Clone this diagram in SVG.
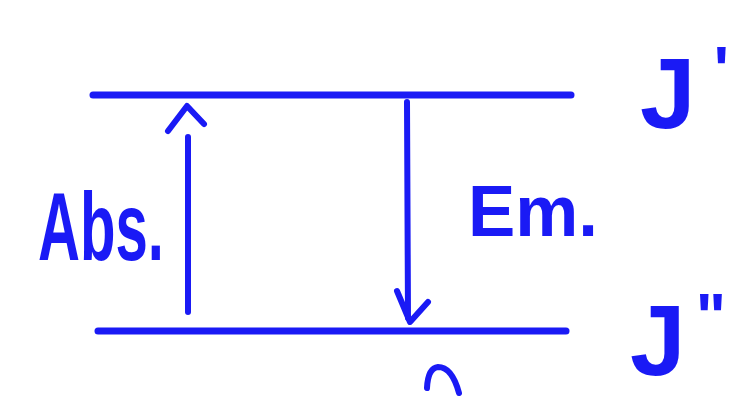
<svg xmlns="http://www.w3.org/2000/svg" width="746" height="398" viewBox="0 0 746 398">
  <style>
    .ink { stroke: #1a1af5; fill: none; stroke-linecap: round; stroke-linejoin: round; }
    .lvl { stroke-width: 7; }
    .arr { stroke-width: 6; }
    .lbl { fill: #1a1af5; font-family: "Liberation Sans", Arial, sans-serif; font-weight: bold; }
  </style>
  <rect width="746" height="398" fill="#ffffff"/>
  <g id="upper-level">
    <line class="ink lvl" x1="93" y1="95" x2="571" y2="95"/>
    <text class="lbl" x="640" y="128" font-size="100">J<tspan dx="18" dy="-36" font-size="64">'</tspan></text>
  </g>
  <g id="lower-level">
    <line class="ink lvl" x1="98" y1="331" x2="566" y2="331"/>
    <text class="lbl" x="630" y="375" font-size="100">J<tspan dx="10" dy="-36" font-size="64">"</tspan></text>
  </g>
  <g id="connectors">
    <g id="absorption">
      <line class="ink arr" x1="188" y1="312" x2="188" y2="137"/>
      <polyline class="ink arr" points="168,131 187,106 204,124"/>
    </g>
    <g id="emission">
      <line class="ink arr" x1="407" y1="102" x2="408" y2="318"/>
      <polyline class="ink arr" points="397,291 410,322 428,302"/>
    </g>
  </g>
  <g id="labels">
    <text class="lbl" x="38" y="260" font-size="96" textLength="126" lengthAdjust="spacingAndGlyphs">Abs.</text>
    <text class="lbl" x="468" y="236" font-size="72" textLength="130" lengthAdjust="spacingAndGlyphs">Em.</text>
  </g>
  <path class="ink arr" d="M427,388 Q428,368 438,367 Q452,367 459,393"/>
</svg>
